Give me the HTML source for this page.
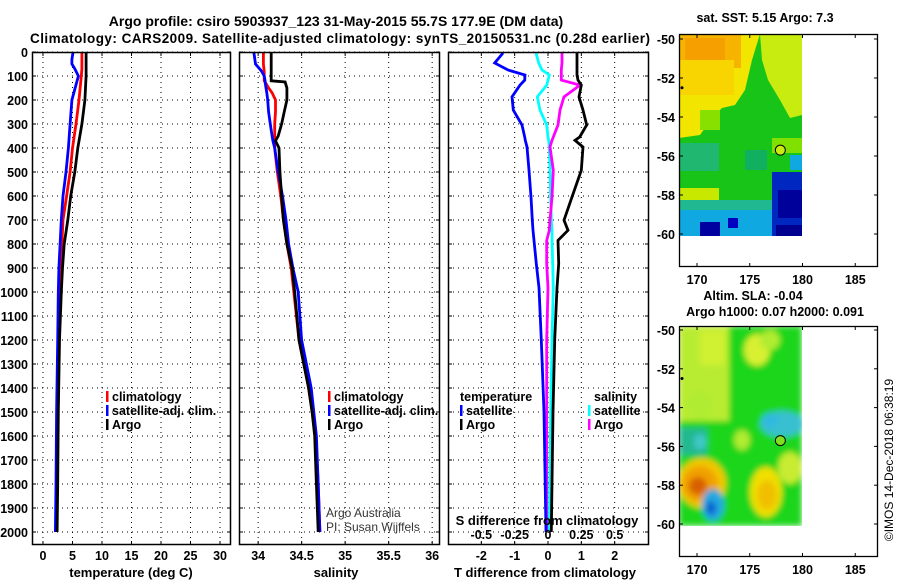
<!DOCTYPE html>
<html><head><meta charset="utf-8">
<style>
html,body{margin:0;padding:0;background:#fff;}
svg{display:block;font-family:"Liberation Sans",sans-serif;font-weight:bold;}
</style></head>
<body>
<svg id="chart" width="900" height="580" viewBox="0 0 900 580">
<text x="336" y="26" font-size="14" text-anchor="middle">Argo profile: csiro 5903937_123 31-May-2015 55.7S 177.9E (DM data)</text>
<text x="340" y="43" font-size="13.5" text-anchor="middle" textLength="620">Climatology: CARS2009. Satellite-adjusted climatology: synTS_20150531.nc (0.28d earlier)</text>
<g id="plots"></g>
<g id="maps"></g>
</svg>
<script>
// ---- data (depths in dbar) ----
const tDepth   = [0,30,50,70,100,200,300,400,500,600,700,800,900,1000,1200,1500,1800,2000];
const tArgo    = [7.3,7.3,7.3,7.3,7.3,7.1,6.6,5.9,5.4,4.7,4.2,3.6,3.3,3.1,2.8,2.6,2.5,2.4];
const tClim    = [6.6,6.6,6.6,6.6,6.5,6.1,5.6,5.0,4.6,4.0,3.4,3.2,3.0,2.9,2.7,2.5,2.4,2.3];
const tSat     = [5.1,4.9,4.9,5.4,6.0,4.9,4.6,4.3,3.9,3.4,3.1,2.9,2.7,2.6,2.5,2.3,2.2,2.1];
const sDepth   = [0,50,80,100,120,125,150,170,200,250,300,350,370,400,500,600,700,800,900,1000,1200,1400,1500,1600,1800,2000];
const sArgo    = [34.15,34.15,34.15,34.15,34.15,34.31,34.33,34.33,34.33,34.30,34.27,34.23,34.20,34.24,34.25,34.27,34.29,34.33,34.39,34.42,34.47,34.58,34.62,34.65,34.67,34.69];
const sClim    = [34.06,34.06,34.07,34.07,34.07,34.08,34.12,34.16,34.20,34.20,34.19,34.19,34.19,34.19,34.22,34.26,34.29,34.33,34.38,34.41,34.47,34.58,34.62,34.66,34.69,34.71];
const sSat     = [33.95,33.97,34.04,34.07,34.08,34.08,34.09,34.10,34.11,34.12,34.14,34.16,34.17,34.19,34.23,34.28,34.32,34.35,34.40,34.46,34.50,34.61,34.64,34.67,34.69,34.71];
const dDepth   = [4,46,75,96,117,138,187,242,304,354,368,396,493,604,701,743,785,882,983,1200,1500,2000];
const dTsat    = [-1.35,-1.6,-1.2,-0.69,-0.7,-0.84,-1.08,-1.04,-0.78,-0.7,-0.68,-0.63,-0.57,-0.51,-0.47,-0.45,-0.42,-0.35,-0.27,-0.2,-0.12,-0.06];
const dTargo   = [0.87,0.87,0.87,0.87,0.9,1.0,0.93,1.05,1.16,0.95,0.81,1.05,1.0,0.72,0.48,0.6,0.3,0.32,0.27,0.2,0.15,0.1];
const dSargo   = [0.105,0.105,0.1,0.1,0.1,0.24,0.12,0.09,0.075,0.04,0.03,0.015,0.04,0.03,0.015,0.01,-0.01,-0.01,0.0,-0.01,-0.01,-0.01];
const dSsat    = [-0.09,-0.07,-0.045,0.01,0.0,-0.01,-0.08,-0.06,-0.01,0.0,0.005,0.01,0.015,0.02,0.025,0.03,0.03,0.035,0.04,0.03,0.02,0.01];
const depthTicks = [0,100,200,300,400,500,600,700,800,900,1000,1100,1200,1300,1400,1500,1600,1700,1800,1900,2000];
const tTicks   = [0,5,10,15,20,25,30];
const sTicks   = [34,34.5,35,35.5,36];
const sTickLabels = ["34","34.5","35","35.5","36"];
const dTTicks  = [-2,-1,0,1,2];
const dSTicks  = [-0.5,-0.25,0,0.25,0.5];
const dSTickLabels = ["-0.5","-0.25","0","0.25","0.5"];
const lonTicks = [170,175,180,185];
const latTicks = [-50,-52,-54,-56,-58,-60];
const profLon = 177.9, profLat = -55.7;

const NS="http://www.w3.org/2000/svg";
function mk(parent,tag,attrs,text){const e=document.createElementNS(NS,tag);for(const k in attrs)e.setAttribute(k,attrs[k]);if(text!==undefined)e.textContent=text;parent.appendChild(e);return e;}
const plots=document.getElementById('plots');
const Y0=52,PY=0.24,TOP=52,BOT=545;
const yD=d=>Y0+d*PY;

function panel(name,x0,x1,xmin,xmax){
  const g=mk(plots,'g',{});
  
  
  const sx=v=>x0+(v-xmin)/(xmax-xmin)*(x1-x0);
  mk(g,'rect',{x:x0,y:TOP,width:x1-x0,height:BOT-TOP,fill:'#fff',stroke:'none'});
  return {g,sx,x0,x1};
}
function grid(p,xticks){
  depthTicks.forEach(d=>{const l=mk(p.g,'line',{x1:p.x0,x2:p.x1,y1:yD(d),y2:yD(d),stroke:'#000','stroke-width':1,'stroke-dasharray':'1,4'});
    
    mk(p.g,'line',{x1:p.x0,x2:p.x0+4,y1:yD(d),y2:yD(d),stroke:'#000'});mk(p.g,'line',{x1:p.x1-4,x2:p.x1,y1:yD(d),y2:yD(d),stroke:'#000'});});
  xticks.forEach(v=>{const l=mk(p.g,'line',{x1:p.sx(v),x2:p.sx(v),y1:TOP,y2:BOT,stroke:'#000','stroke-width':1,'stroke-dasharray':'1,4'});
    
    mk(p.g,'line',{x1:p.sx(v),x2:p.sx(v),y1:BOT-4,y2:BOT,stroke:'#000'});mk(p.g,'line',{x1:p.sx(v),x2:p.sx(v),y1:TOP,y2:TOP+4,stroke:'#000'});});
}
function frame(p){mk(p.g,'rect',{x:p.x0+0.5,y:TOP+0.5,width:p.x1-p.x0-1,height:BOT-TOP-1,fill:'none',stroke:'#000','stroke-width':1.5});}
function line(p,xs,ds,color,name,fx){
  const pts=xs.map((v,i)=>p.sx(fx?fx(v):v).toFixed(1)+','+yD(ds[i]).toFixed(1)).join(' ');
  const l=mk(p.g,'polyline',{points:pts,fill:'none',stroke:color,'stroke-width':2.8,'stroke-linejoin':'miter'});
  
  
}
function xlabels(p,ticks,labels,y){ticks.forEach((v,i)=>{const t=mk(p.g,'text',{x:p.sx(v),y:y,'font-size':12.5,'text-anchor':'middle'},labels?labels[i]:String(v));});}
function legend(g,x,y,color,label){
  mk(g,'rect',{x:x,y:y-10,width:2.5,height:11,fill:color});
  const t=mk(g,'text',{x:x+6,y:y,'font-size':12.5},label);
  
}

// Panel 1 temperature
const p1=panel('temperature-panel',32,231,-1.86,31.86);
grid(p1,tTicks);
line(p1,tClim,tDepth,'#f00','line-t-climatology');
line(p1,tSat,tDepth,'#00f','line-t-satellite');
line(p1,tArgo,tDepth,'#000','line-t-argo');
frame(p1);
xlabels(p1,tTicks,null,560);
let t=mk(plots,'text',{x:131,y:577,'font-size':13,'text-anchor':'middle'},'temperature (deg C)');
depthTicks.forEach(d=>{const e=mk(plots,'text',{x:28,y:yD(d)+5,'font-size':12.5,'text-anchor':'end'},String(d));});
legend(p1.g,106,401,'#f00','climatology');
legend(p1.g,106,415,'#00f','satellite-adj. clim.');
legend(p1.g,106,429,'#000','Argo');

// Panel 2 salinity
const p2=panel('salinity-panel',239,440,33.78,36.09);
grid(p2,sTicks);
line(p2,sClim,sDepth,'#f00','line-s-climatology');
line(p2,sSat,sDepth,'#00f','line-s-satellite');
line(p2,sArgo,sDepth,'#000','line-s-argo');
frame(p2);
xlabels(p2,sTicks,sTickLabels,560);
t=mk(plots,'text',{x:336,y:577,'font-size':13,'text-anchor':'middle'},'salinity');
legend(p2.g,328,401,'#f00','climatology');
legend(p2.g,328,415,'#00f','satellite-adj. clim.');
legend(p2.g,328,429,'#000','Argo');
t=mk(p2.g,'text',{x:326,y:517,'font-size':12,'font-weight':'normal',fill:'#333'},'Argo Australia');
t=mk(p2.g,'text',{x:326,y:531,'font-size':12,'font-weight':'normal',fill:'#333'},'PI: Susan Wijffels');

// Panel 3 differences
const p3=panel('difference-panel',448,649,-3.0,3.03);
grid(p3,dTTicks);
const s2t=v=>v*4;
line(p3,dSsat,dDepth,'#0ff','line-s-satellite-diff',s2t);
line(p3,dSargo,dDepth,'#f0f','line-s-argo-diff',s2t);
line(p3,dTsat,dDepth,'#00f','line-t-satellite-diff');
line(p3,dTargo,dDepth,'#000','line-t-argo-diff');
frame(p3);
xlabels(p3,dTTicks,null,560);
dSTicks.forEach((v,i)=>{const e=mk(p3.g,'text',{x:p3.sx(s2t(v)),y:539,'font-size':12.5,'text-anchor':'middle'},dSTickLabels[i]);});
t=mk(p3.g,'text',{x:547,y:525,'font-size':13,'text-anchor':'middle'},'S difference from climatology');
t=mk(plots,'text',{x:545,y:577,'font-size':13,'text-anchor':'middle'},'T difference from climatology');
t=mk(p3.g,'text',{x:460,y:401,'font-size':12.5},'temperature');
legend(p3.g,460,415,'#00f','satellite');
legend(p3.g,460,429,'#000','Argo');
t=mk(p3.g,'text',{x:594,y:401,'font-size':12.5},'salinity');
legend(p3.g,588,415,'#0ff','satellite');
legend(p3.g,588,429,'#f0f','Argo');

// ---- maps ----
const maps=document.getElementById('maps');
function mapAxes(name,top,bot,lat50y,lat60y,regions,blur,title){
  const g=mk(maps,'g',{});
  
  
  const X0=679,X1=878;
  const sx=lon=>697+(lon-170)*10.55;
  const sy=lat=>lat50y+(-50-lat)*(lat60y-lat50y)/10;
  const clipId=name+'-clip';
  const defs=mk(g,'defs',{});
  const cp=mk(defs,'clipPath',{id:clipId});mk(cp,'rect',{x:X0,y:top,width:802-X0,height:sy(-60.1)-top});
  if(blur){const f=mk(defs,'filter',{id:name+'-blur',x:'-20%',y:'-20%',width:'140%',height:'140%'});mk(f,'feGaussianBlur',{stdDeviation:blur});}
  const ig=mk(g,'g',{'clip-path':'url(#'+clipId+')'});
  
  const inner=mk(ig,'g',blur?{filter:'url(#'+name+'-blur)'}:{});
  regions.forEach(r=>mk(inner,r[0],r[1]));
  mk(g,'rect',{x:X0+0.5,y:top+0.5,width:X1-X0-1,height:bot-top-1,fill:'none',stroke:'#000','stroke-width':1.3});
  lonTicks.forEach(l=>{mk(g,'line',{x1:sx(l),x2:sx(l),y1:bot-4,y2:bot,stroke:'#000'});mk(g,'line',{x1:sx(l),x2:sx(l),y1:top,y2:top+4,stroke:'#000'});
    const e=mk(g,'text',{x:sx(l),y:bot+17,'font-size':12.5,'text-anchor':'middle'},String(l));});
  latTicks.forEach(l=>{mk(g,'line',{x1:X0,x2:X0+4,y1:sy(l),y2:sy(l),stroke:'#000'});mk(g,'line',{x1:X1-4,x2:X1,y1:sy(l),y2:sy(l),stroke:'#000'});
    const e=mk(g,'text',{x:675,y:sy(l)+5,'font-size':12.5,'text-anchor':'end'},String(l));});
  const c=mk(g,'circle',{cx:sx(profLon),cy:sy(profLat),r:5,fill:title.fill,stroke:'#000','stroke-width':1});
  
  mk(g,'circle',{cx:682,cy:sy(-52.5),r:1.5,fill:'#000'});
  return g;
}
const R=(x,y,w,h,f)=>['rect',{x:x,y:y,width:w,height:h,fill:f}];
const E=(cx,cy,rx,ry,f)=>['ellipse',{cx:cx,cy:cy,rx:rx,ry:ry,fill:f}];
const P=(pts,f)=>['polygon',{points:pts,fill:f}];
const sstRegions=[
 R(679,34,123,202,'#18c418'),
 P('679,34,760,34,752,60,745,90,735,105,722,108,712,118,700,135,679,138','#f2e600'),
 P('760,34,802,34,802,115,790,118,780,100,768,80,762,60','#c8ec10'),
 R(679,34,62,34,'#f6b400'),R(685,38,40,22,'#f5a000'),
 R(679,60,55,35,'#f8d400'),
 R(679,143,40,28,'#20b870'),
 R(679,171,30,26,'#18c418'),
 R(679,188,40,12,'#c8e800'),
 R(679,200,95,12,'#20b890'),
 R(679,210,95,26,'#10a8e0'),
 R(700,222,20,14,'#0000a0'),R(728,218,10,10,'#0000c0'),
 R(772,172,30,64,'#0028c0'),R(778,190,24,28,'#00009a'),R(776,225,26,11,'#000090'),
 R(790,155,12,15,'#10a8e0'),R(772,138,30,15,'#80e000'),
 R(745,150,22,20,'#10b060'),R(700,110,20,20,'#88e000')
];
const slaRegions=[
 R(679,326,123,200,'#1ed61e'),
 R(679,326,50,95,'#b8ec30'),R(700,330,25,35,'#d0f030'),
 E(757,350,13,16,'#d8f030'),E(770,340,10,10,'#b0ec30'),
 E(700,405,12,15,'#b0ec30'),
 R(679,428,28,27,'#20b890'),E(700,442,6,8,'#40c8c8'),
 E(782,424,22,13,'#38c0d0'),E(770,420,8,7,'#30b8e0'),
 E(702,483,24,25,'#f0c800'),E(700,484,18,18,'#f0a000'),E(698,486,9,9,'#d86000'),
 E(713,505,11,16,'#20a8e0'),E(711,508,5,7,'#1060d0'),
 E(766,492,16,25,'#f0e000'),E(767,495,10,15,'#f0c000'),
 E(790,468,12,16,'#c8ec30'),E(742,440,8,10,'#b0ec30')
];
mapAxes('sst-map',34,267,39,234,sstRegions,0,{fill:'#c8ec10'});
mapAxes('sla-map',326,557,330,524,slaRegions,3,{fill:'#80e020'});
t=mk(maps,'text',{x:765,y:22,'font-size':12.5,'text-anchor':'middle'},'sat. SST: 5.15 Argo: 7.3');
t=mk(maps,'text',{x:753,y:300,'font-size':12.5,'text-anchor':'middle'},'Altim. SLA: -0.04');
t=mk(maps,'text',{x:775,y:316,'font-size':12.5,'text-anchor':'middle'},'Argo h1000: 0.07 h2000: 0.091');
t=mk(maps,'text',{x:0,y:0,'font-size':12,'font-weight':'normal','text-anchor':'middle',transform:'translate(893,460) rotate(-90)'},'©IMOS 14-Dec-2018 06:38:19');
</script>
</body></html>
